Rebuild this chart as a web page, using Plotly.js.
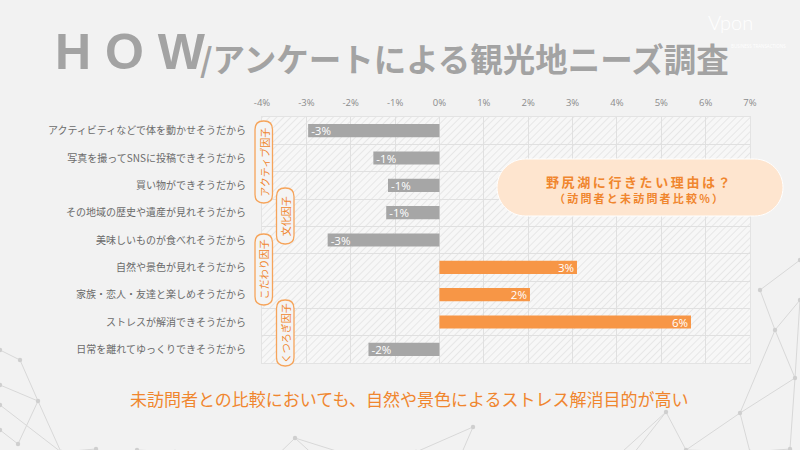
<!DOCTYPE html>
<html>
<head>
<meta charset="utf-8">
<script src="https://cdn.plot.ly/plotly-3.0.1.min.js"></script>
<style>
  html, body { margin: 0; padding: 0; background: #f2f2f2; }
  #wrap { position: relative; width: 800px; height: 450px; overflow: hidden; background: #f2f2f2; }
  #bg { position: absolute; left: 0; top: 0; }
  #chart { position: absolute; left: 0; top: 0; width: 800px; height: 450px; }
</style>
</head>
<body>
<div id="wrap">
  <svg id="bg" width="800" height="450"></svg>
  <div id="chart"></div>
</div>
<script>
// ---------------- data ----------------
const categories = [
  "アクティビティなどで体を動かせそうだから",
  "写真を撮ってSNSに投稿できそうだから",
  "買い物ができそうだから",
  "その地域の歴史や遺産が見れそうだから",
  "美味しいものが食べれそうだから",
  "自然や景色が見れそうだから",
  "家族・恋人・友達と楽しめそうだから",
  "ストレスが解消できそうだから",
  "日常を離れてゆっくりできそうだから"
];
const diffValues = [-2.96, -1.49, -1.16, -1.2, -2.52, 3.1, 2.04, 5.67, -1.6];
const xTickValues = [-4, -3, -2, -1, 0, 1, 2, 3, 4, 5, 6, 7];
const factorLabels = ["アクティブ因子", "文化因子", "こだわり因子", "くつろぎ因子"];
const titleMain = "H O W";
const titleSub = "/アンケートによる観光地ニーズ調査";
const calloutLine1 = "野尻湖に行きたい理由は？";
const calloutLine2 = "（訪問者と未訪問者比較%）";
const conclusion = "未訪問者との比較においても、自然や景色によるストレス解消目的が高い";

// ---------------- style ----------------
const ORANGE = "#f79646";
const ORANGE_TXT = "#f0862e";
const GREY_BAR = "#a6a6a6";
const JP = "'Noto Sans CJK JP', 'Noto Sans', sans-serif";
const spaced = s => Array.from(s).join('\u2009');

// plot area in pixels
const L = 262, T = 117, W = 488, H = 246;
const px = p => (p - L) / W;
const py = p => 1 - (p - T) / H;

// ---------------- decorative background network ----------------
(function drawNet() {
  const segs = [
    [0,385,38,401],[38,401,18,444],[38,401,61,452],[0,405,61,452],[61,452,96,449],
    [20,360,38,401],[0,350,20,360],[18,444,0,430],[96,449,130,470],[61,452,75,470],
    [137,450,175,452],[175,452,200,470],[137,450,150,470],
    [295,438,262,470],[295,438,330,470],[295,438,365,460],[365,460,380,470],
    [416,452,473,427],[416,452,457,464],[457,464,473,427],[457,464,504,466],
    [504,466,541,461],[541,461,560,470],[504,466,520,470],[416,452,400,470],
    [612,461,634,453],[634,453,666,412],[666,412,686,450],[686,450,750,452],
    [740,413,795,378],[740,413,750,452],[750,452,790,449],[790,449,795,378],
    [666,412,612,461],[686,450,700,470],[634,453,640,470],[740,413,686,450],
    [795,378,800,300],[775,330,800,300],[775,330,795,378],[760,290,775,330],
    [760,290,800,260],[740,413,775,330],[790,449,800,470]
  ];
  const nodes = {};
  let s = '';
  segs.forEach(a => {
    s += `<line x1="${a[0]}" y1="${a[1]}" x2="${a[2]}" y2="${a[3]}" stroke="#d8d8d8" stroke-width="1"/>`;
    nodes[a[0]+','+a[1]] = 1; nodes[a[2]+','+a[3]] = 1;
  });
  Object.keys(nodes).forEach(k => {
    const [x, y] = k.split(',');
    s += `<circle cx="${x}" cy="${y}" r="2.2" fill="#cfcfcf"/>`;
  });
  document.getElementById('bg').innerHTML = s;
})();

// hatched plot background as an svg image
const hatchSvg =
  `<svg xmlns="http://www.w3.org/2000/svg" width="${W}" height="${H}" preserveAspectRatio="none">` +
  `<defs><pattern id="p" width="5" height="5" patternUnits="userSpaceOnUse" patternTransform="rotate(45)">` +
  `<rect width="5" height="5" fill="#f7f7f7"/><line x1="0" y1="0" x2="0" y2="5" stroke="#e3e3e3" stroke-width="1.6"/></pattern></defs>` +
  `<rect width="${W}" height="${H}" fill="url(#p)"/></svg>`;
const hatchSrc = 'data:image/svg+xml;charset=utf-8,' + encodeURIComponent(hatchSvg);

// ---------------- traces ----------------
const bars = {
  type: 'bar',
  orientation: 'h',
  y: categories,
  x: diffValues,
  marker: { color: diffValues.map(v => v < 0 ? GREY_BAR : ORANGE) },
  width: 0.48,
  text: diffValues.map(v => Math.round(v) + '%'),
  textposition: 'inside',
  insidetextanchor: 'end',
  constraintext: 'none',
  textfont: { color: '#ffffff', size: 11.5, family: "'Open Sans', sans-serif" },
  hoverinfo: 'skip',
  cliponaxis: false
};

// ---------------- shapes ----------------
function roundRect(x0, y0, x1, y1, r) {
  const P = (x, y) => px(x).toFixed(5) + ',' + py(y).toFixed(5);
  return 'M' + P(x0 + r, y0) +
    ' L' + P(x1 - r, y0) + ' Q' + P(x1, y0) + ' ' + P(x1, y0 + r) +
    ' L' + P(x1, y1 - r) + ' Q' + P(x1, y1) + ' ' + P(x1 - r, y1) +
    ' L' + P(x0 + r, y1) + ' Q' + P(x0, y1) + ' ' + P(x0, y1 - r) +
    ' L' + P(x0, y0 + r) + ' Q' + P(x0, y0) + ' ' + P(x0 + r, y0) + ' Z';
}
function pill(x0, y0, x1, y1) {
  const P = (x, y) => px(x).toFixed(5) + ',' + py(y).toFixed(5);
  const r = (y1 - y0) / 2, k = 0.5523 * r;
  const cy = (y0 + y1) / 2;
  return 'M' + P(x0 + r, y0) + ' L' + P(x1 - r, y0) +
    ' C' + P(x1 - r + k, y0) + ' ' + P(x1, cy - k) + ' ' + P(x1, cy) +
    ' C' + P(x1, cy + k) + ' ' + P(x1 - r + k, y1) + ' ' + P(x1 - r, y1) +
    ' L' + P(x0 + r, y1) +
    ' C' + P(x0 + r - k, y1) + ' ' + P(x0, cy + k) + ' ' + P(x0, cy) +
    ' C' + P(x0, cy - k) + ' ' + P(x0 + r - k, y0) + ' ' + P(x0 + r, y0) + ' Z';
}

const badgeBoxes = [
  [255, 121, 272.5, 203],
  [276.5, 188, 294, 244],
  [255, 234, 272.5, 305],
  [276.5, 300, 294, 366]
];

const shapes = badgeBoxes.map(b => ({
  type: 'path', xref: 'paper', yref: 'paper',
  path: roundRect(b[0], b[1], b[2], b[3], 8.5),
  fillcolor: '#f4f4f4', line: { color: '#f6a45a', width: 1.3 }, layer: 'above'
}));
shapes.push({
  type: 'path', xref: 'paper', yref: 'paper',
  path: pill(497, 159, 783, 216),
  fillcolor: '#fee5cf', line: { color: '#ffffff', width: 1 }, layer: 'above'
});

// ---------------- annotations ----------------
const annotations = [];
badgeBoxes.forEach((b, i) => {
  annotations.push({
    xref: 'paper', yref: 'paper',
    x: px((b[0] + b[2]) / 2), y: py((b[1] + b[3]) / 2),
    text: factorLabels[i], textangle: -90, showarrow: false,
    font: { family: JP, size: 10, color: ORANGE_TXT },
    xanchor: 'center', yanchor: 'middle'
  });
});
annotations.push(
  { xref: 'paper', yref: 'paper', x: px(638), y: py(181), text: spaced(calloutLine1), showarrow: false,
    font: { family: JP, size: 13, color: ORANGE_TXT, weight: 'bold' }, xanchor: 'center', yanchor: 'middle' },
  { xref: 'paper', yref: 'paper', x: px(638), y: py(198), text: spaced(calloutLine2), showarrow: false,
    font: { family: JP, size: 11, color: ORANGE_TXT, weight: 'bold' }, xanchor: 'center', yanchor: 'middle' },
  { xref: 'paper', yref: 'paper', x: px(53), y: py(52), text: titleMain, showarrow: false,
    font: { family: "'Liberation Sans', Arial, sans-serif", size: 50, color: '#a3a3a3', weight: 'bold' },
    xanchor: 'left', yanchor: 'middle' },
  { xref: 'paper', yref: 'paper', x: px(198), y: py(57), text: titleSub, showarrow: false,
    font: { family: JP, size: 32.5, color: '#a3a3a3', weight: 'bold' },
    xanchor: 'left', yanchor: 'middle' },
  { xref: 'paper', yref: 'paper', x: px(730), y: py(22), text: 'Vpon', showarrow: false,
    font: { family: "'Lato', 'Open Sans', sans-serif", size: 20, color: '#ffffff', weight: 300 },
    xanchor: 'center', yanchor: 'middle' },
  { xref: 'paper', yref: 'paper', x: px(729), y: py(46), text: 'BUSINESS TRANSACTIONS', showarrow: false,
    font: { family: "'Open Sans', sans-serif", size: 4.5, color: '#ffffff' },
    xanchor: 'left', yanchor: 'middle' },
  { xref: 'paper', yref: 'paper', x: px(409), y: py(398), text: conclusion, showarrow: false,
    font: { family: JP, size: 17, color: ORANGE_TXT },
    xanchor: 'center', yanchor: 'middle' }
);

// ---------------- layout ----------------
const layout = {
  width: 800, height: 450,
  margin: { l: L, r: 800 - L - W, t: T, b: 450 - T - H, pad: 0 },
  paper_bgcolor: 'rgba(0,0,0,0)',
  plot_bgcolor: 'rgba(0,0,0,0)',
  showlegend: false,
  bargap: 0.52,
  xaxis: {
    side: 'top',
    range: [xTickValues[0], xTickValues[xTickValues.length - 1]],
    tickvals: xTickValues,
    ticktext: xTickValues.map(v => v + '%'),
    tickfont: { family: "'Open Sans', sans-serif", size: 9.5, color: '#8c8c8c' },
    showgrid: true, gridcolor: '#e0e0e0', gridwidth: 1,
    zeroline: false,
    showline: true, mirror: true, linecolor: '#e3e3e3', linewidth: 1,
    ticks: '', ticklabelstandoff: 6,
    fixedrange: true
  },
  yaxis: {
    type: 'category',
    autorange: 'reversed',
    tickson: 'boundaries',
    showgrid: true, gridcolor: '#e0e0e0', gridwidth: 1,
    showline: true, mirror: true, linecolor: '#e3e3e3', linewidth: 1,
    ticks: '',
    tickfont: { family: JP, size: 10, color: '#6b6b6b' },
    ticklabelstandoff: 13,
    fixedrange: true
  },
  images: [{
    source: hatchSrc, xref: 'paper', yref: 'paper',
    x: 0, y: 1, sizex: 1, sizey: 1, sizing: 'stretch',
    xanchor: 'left', yanchor: 'top', layer: 'below'
  }],
  shapes: shapes,
  annotations: annotations
};

Plotly.newPlot('chart', [bars], layout, { displayModeBar: false, staticPlot: true });
</script>
</body>
</html>
